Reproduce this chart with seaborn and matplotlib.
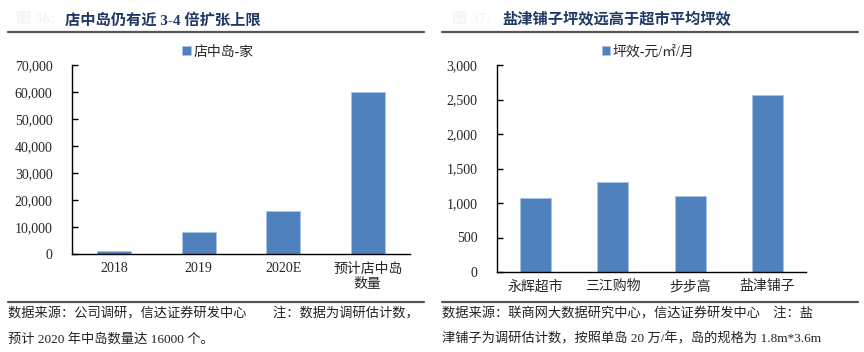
import matplotlib
matplotlib.use("Agg")
import matplotlib.pyplot as plt
import seaborn as sns
import pandas as pd
from matplotlib.lines import Line2D
from matplotlib.ticker import FuncFormatter

sns.set_theme(style="white")
plt.rcParams['font.family'] = ['Liberation Serif', 'Noto Sans CJK SC', 'DejaVu Sans']

# data
left_categories = ["2018", "2019", "2020E", "预计店中岛\n数量"]
left_values = [1000, 8000, 16000, 60000]
left_series = "店中岛-家"
left_title = "店中岛仍有近 3-4 倍扩张上限"
left_yticks = [0, 10000, 20000, 30000, 40000, 50000, 60000, 70000]

right_categories = ["永辉超市", "三江购物", "步步高", "盐津铺子"]
right_values = [1070, 1300, 1100, 2570]
right_series = "坪效-元/㎡/月"
right_title = "盐津铺子坪效远高于超市平均坪效"
right_yticks = [0, 500, 1000, 1500, 2000, 2500, 3000]

left_note = ["数据来源：公司调研，信达证券研发中心　　注：数据为调研估计数，",
             "预计 2020 年中岛数量达 16000 个。"]
right_note = ["数据来源：联商网大数据研究中心，信达证券研发中心　注：盐",
              "津铺子为调研估计数，按照单岛 20 万/年，岛的规格为 1.8m*3.6m"]

BAR = "#4F81BD"
TITLE_C = "#1F3864"
W, H = 864, 352

fig = plt.figure(figsize=(W / 100, H / 100), dpi=100)

def fx(px):
    return px / W

def fy(py):
    return 1 - py / H

def draw(ax, cats, vals, series, yticks):
    df = pd.DataFrame({"cat": cats, "val": vals})
    sns.barplot(data=df, x="cat", y="val", color=BAR, width=0.4, ax=ax,
                label=series, saturation=1, edgecolor="#a9c4e6", linewidth=0.6)
    ax.set_xlim(-0.5, len(cats) - 0.5)
    ax.set_ylim(yticks[0], yticks[-1])
    ax.set_yticks(yticks)
    ax.yaxis.set_major_formatter(FuncFormatter(lambda v, p: f"{int(v):,}"))
    ax.set_xlabel("")
    ax.set_ylabel("")
    for s in ["top", "right"]:
        ax.spines[s].set_visible(False)
    for s in ["left", "bottom"]:
        ax.spines[s].set_color("black")
        ax.spines[s].set_linewidth(1.0)
    ax.set_xticks(range(len(cats)))
    ax.set_xticklabels(cats)
    ax.set_xticks([i - 0.5 for i in range(len(cats) + 1)], minor=True)
    ax.tick_params(axis="x", which="major", length=0, pad=6, labelsize=10)
    ax.tick_params(axis="x", which="minor", direction="in", length=4, width=1, color="black")
    ax.tick_params(axis="y", direction="in", length=4, width=1, color="black",
                   left=True, pad=14, labelsize=10)
    ax.grid(False)
    if ax.get_legend() is not None:
        ax.get_legend().remove()

axL = fig.add_axes([fx(72), fy(254), fx(410 - 72), (254 - 65) / H])
draw(axL, left_categories, left_values, left_series, left_yticks)
axR = fig.add_axes([fx(497), fy(272), fx(806 - 497), (272 - 65) / H])
draw(axR, right_categories, right_values, right_series, right_yticks)

# legends
hL, lL = axL.get_legend_handles_labels()
fig.legend(hL[:1], lL[:1], loc="center", bbox_to_anchor=(fx(218), fy(52)), frameon=False,
           handlelength=0.6, handleheight=0.6, handletextpad=0.2, fontsize=10)
hR, lR = axR.get_legend_handles_labels()
fig.legend(hR[:1], lR[:1], loc="center", bbox_to_anchor=(fx(648), fy(52)), frameon=False,
           handlelength=0.6, handleheight=0.6, handletextpad=0.2, fontsize=10)

# titles
fig.text(fx(16), fy(20), "图 36:", color="#f5f5f5", fontsize=11, fontweight="bold", va="center")
fig.text(fx(65), fy(20), left_title, color=TITLE_C, fontsize=11, fontweight="bold", va="center")
fig.text(fx(452), fy(20), "图 37:", color="#f5f5f5", fontsize=11, fontweight="bold", va="center")
fig.text(fx(502), fy(20), right_title, color=TITLE_C, fontsize=11, fontweight="bold", va="center")

# rules
for x0, x1 in [(8, 424), (442, 858)]:
    fig.add_artist(Line2D([fx(x0), fx(x1)], [fy(32), fy(32)], color="#555555", lw=1.6))
    fig.add_artist(Line2D([fx(x0), fx(x1)], [fy(302), fy(302)], color="#555555", lw=1.6))

# notes
for i, line in enumerate(left_note):
    fig.text(fx(8), fy(314 + 25 * i), line, fontsize=9.5, va="center", color="#222222")
for i, line in enumerate(right_note):
    fig.text(fx(442), fy(314 + 25 * i), line, fontsize=9.5, va="center", color="#222222")

fig.savefig("out.png", dpi=100)
